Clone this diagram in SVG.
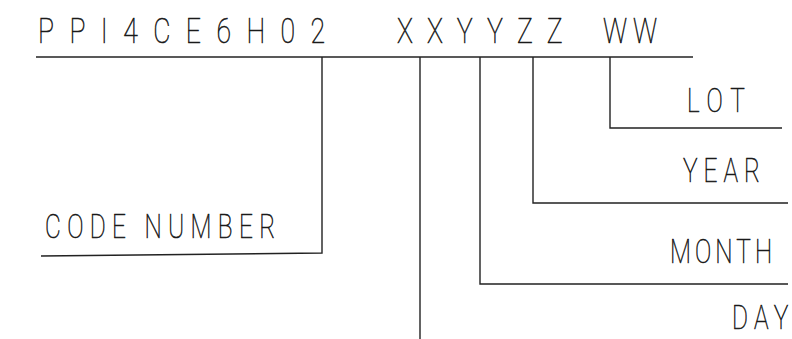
<svg xmlns="http://www.w3.org/2000/svg" width="792" height="339" viewBox="0 0 792 339">
<style>
.t{font-family:Roboto,"DejaVu Sans",sans-serif;font-weight:100;fill:#1a1a1a;stroke:#1a1a1a;stroke-width:0.6}
.big{font-size:36px}
.lbl{font-size:33px}
.c{stroke:#222;stroke-width:1.4;fill:none}
</style>
<rect width="792" height="339" fill="#fff"/>
<g id="code">
<text class="t big" transform="translate(38,43) scale(0.74,1)" textLength="388" lengthAdjust="spacing">PPI4CE6H02</text>
<text class="t big" transform="translate(397,43) scale(0.74,1)" textLength="224" lengthAdjust="spacing">XXYYZZ</text>
<text class="t big" transform="translate(603,43) scale(0.74,1)" textLength="73" lengthAdjust="spacing">WW</text>
</g>
<g id="connectors">
<line class="c" x1="36" y1="57" x2="693" y2="57"/>
<polyline class="c" points="322,57 322,253 41,256"/>
<line class="c" x1="420" y1="57" x2="420" y2="339"/>
<polyline class="c" points="480,57 480,284 788,284"/>
<polyline class="c" points="533,57 533,203 788,203"/>
<polyline class="c" points="610,57 610,128 782,128"/>
</g>
<g id="label-code-number"><text class="t lbl" transform="translate(45,238) scale(0.74,1)" textLength="311" lengthAdjust="spacing">CODE NUMBER</text></g>
<g id="label-lot"><text class="t lbl" transform="translate(687,112) scale(0.74,1)" textLength="78" lengthAdjust="spacing">LOT</text></g>
<g id="label-year"><text class="t lbl" transform="translate(683,182) scale(0.74,1)" textLength="104" lengthAdjust="spacing">YEAR</text></g>
<g id="label-month"><text class="t lbl" transform="translate(670,263) scale(0.74,1)" textLength="138" lengthAdjust="spacing">MONTH</text></g>
<g id="label-day"><text class="t lbl" transform="translate(732,329) scale(0.74,1)" textLength="76" lengthAdjust="spacing">DAY</text></g>
</svg>
